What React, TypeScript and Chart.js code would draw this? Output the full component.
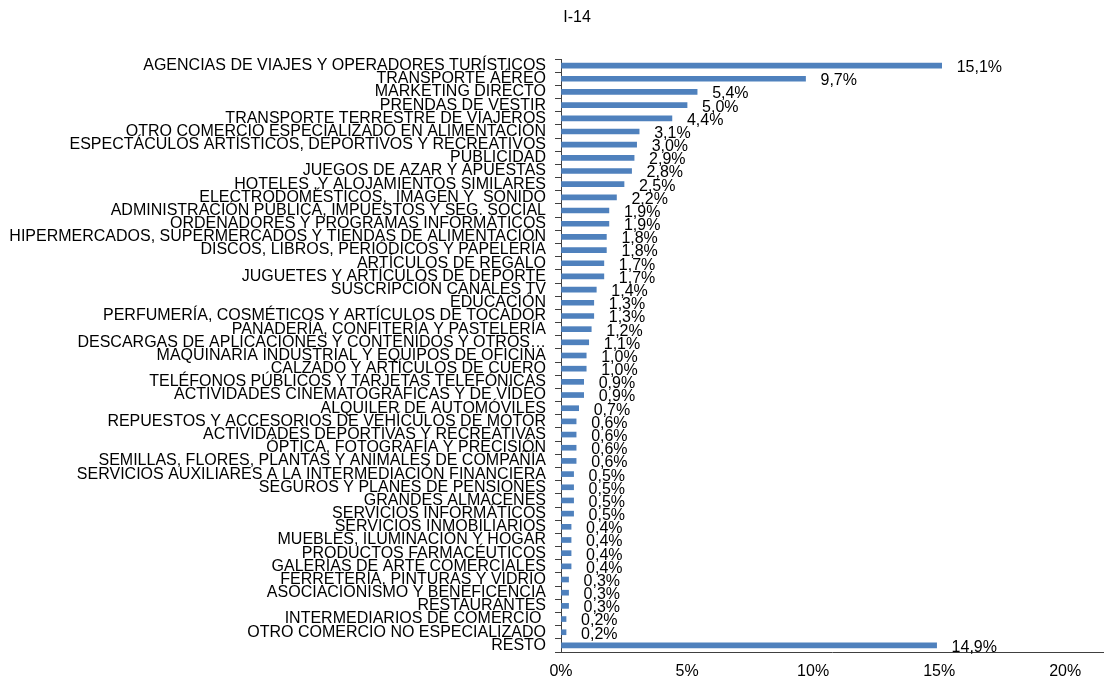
import React, { useEffect, useRef } from "react";
import { Chart, registerables } from "chart.js";

Chart.register(...registerables);

const chartTitle = "I-14";

const categories: string[] = [
  "AGENCIAS DE VIAJES Y OPERADORES TURÍSTICOS",
  "TRANSPORTE AÉREO",
  "MARKETING DIRECTO",
  "PRENDAS DE VESTIR",
  "TRANSPORTE TERRESTRE DE VIAJEROS",
  "OTRO COMERCIO ESPECIALIZADO EN ALIMENTACIÓN",
  "ESPECTÁCULOS ARTÍSTICOS, DEPORTIVOS Y RECREATIVOS",
  "PUBLICIDAD",
  "JUEGOS DE AZAR Y APUESTAS",
  "HOTELES ,Y ALOJAMIENTOS SIMILARES",
  "ELECTRODOMÉSTICOS,  IMAGEN Y  SONIDO",
  "ADMINISTRACIÓN PÚBLICA, IMPUESTOS Y SEG. SOCIAL",
  "ORDENADORES Y PROGRAMAS INFORMÁTICOS",
  "HIPERMERCADOS, SUPERMERCADOS Y TIENDAS DE ALIMENTACIÓN",
  "DISCOS, LIBROS, PERIÓDICOS Y PAPELERÍA",
  "ARTÍCULOS DE REGALO",
  "JUGUETES Y ARTÍCULOS DE DEPORTE",
  "SUSCRIPCIÓN CANALES TV",
  "EDUCACIÓN",
  "PERFUMERÍA, COSMÉTICOS Y ARTÍCULOS DE TOCADOR",
  "PANADERÍA, CONFITERÍA Y PASTELERÍA",
  "DESCARGAS DE APLICACIONES Y CONTENIDOS Y OTROS…",
  "MAQUINARIA INDUSTRIAL Y EQUIPOS DE OFICINA",
  "CALZADO Y ARTÍCULOS DE CUERO",
  "TELÉFONOS PÚBLICOS Y TARJETAS TELEFÓNICAS",
  "ACTIVIDADES CINEMATOGRÁFICAS Y DE VÍDEO",
  "ALQUILER DE AUTOMÓVILES",
  "REPUESTOS Y ACCESORIOS DE VEHÍCULOS DE MOTOR",
  "ACTIVIDADES DEPORTIVAS Y RECREATIVAS",
  "ÓPTICA, FOTOGRAFÍA Y PRECISIÓN",
  "SEMILLAS, FLORES, PLANTAS Y ANIMALES DE COMPAÑÍA",
  "SERVICIOS AUXILIARES A LA INTERMEDIACIÓN FINANCIERA",
  "SEGUROS Y PLANES DE PENSIONES",
  "GRANDES ALMACENES",
  "SERVICIOS INFORMÁTICOS",
  "SERVICIOS INMOBILIARIOS",
  "MUEBLES, ILUMINACIÓN Y HOGAR",
  "PRODUCTOS FARMACÉUTICOS",
  "GALERÍAS DE ARTE COMERCIALES",
  "FERRETERÍA, PINTURAS Y VIDRIO",
  "ASOCIACIONISMO Y BENEFICENCIA",
  "RESTAURANTES",
  "INTERMEDIARIOS DE COMERCIO ",
  "OTRO COMERCIO NO ESPECIALIZADO",
  "RESTO",
];

const values: number[] = [
  15.1, 9.7, 5.4, 5.0, 4.4, 3.1, 3.0, 2.9, 2.8, 2.5, 2.2,
  1.9, 1.9, 1.8, 1.8, 1.7, 1.7, 1.4, 1.3, 1.3, 1.2, 1.1,
  1.0, 1.0, 0.9, 0.9, 0.7, 0.6, 0.6, 0.6, 0.6, 0.5, 0.5,
  0.5, 0.5, 0.4, 0.4, 0.4, 0.4, 0.3, 0.3, 0.3, 0.2, 0.2,
  14.9,
];

const xTickValues: number[] = [0, 5, 10, 15, 20];

const FONT = '"Liberation Sans", Arial, sans-serif';

const fmt = (v: number) => v.toFixed(1).replace(".", ",") + "%";

const valueLabels = {
  id: "valueLabels",
  afterDatasetsDraw(chart: any) {
    const ctx = chart.ctx;
    const meta = chart.getDatasetMeta(0);
    ctx.save();
    ctx.font = `16px ${FONT}`;
    ctx.fillStyle = "#000";
    ctx.textAlign = "left";
    ctx.textBaseline = "middle";
    meta.data.forEach((el: any, i: number) => {
      ctx.fillText(fmt(values[i]), el.x + 15, el.y + 2);
    });
    ctx.restore();
  },
};

export default function App() {
  const ref = useRef<HTMLCanvasElement | null>(null);

  useEffect(() => {
    if (!ref.current) return;
    const chart = new Chart(ref.current, {
      type: "bar",
      data: {
        labels: categories,
        datasets: [
          {
            data: values,
            backgroundColor: "#4F81BD",
            borderWidth: 0,
            barThickness: 5,
          },
        ],
      },
      options: {
        indexAxis: "y",
        animation: false,
        responsive: false,
        layout: { padding: { left: 0, right: 6, top: 59, bottom: 2 } },
        plugins: {
          legend: { display: false },
          tooltip: { enabled: false },
          title: { display: false },
        },
        scales: {
          y: {
            afterFit(scale: any) {
              scale.width = 561;
              scale.paddingTop = 0;
              scale.paddingBottom = 0;
            },
            ticks: {
              autoSkip: false,
              color: "#000",
              padding: 9,
              font: { family: FONT, size: 16 },
            },
            grid: {
              display: true,
              drawOnChartArea: false,
              drawTicks: true,
              tickLength: 6,
              color: "#404040",
            },
            border: { display: true, color: "#404040", width: 1 },
          },
          x: {
            min: 0,
            max: 21.5,
            afterBuildTicks(scale: any) {
              scale.ticks = xTickValues.map((v) => ({ value: v }));
            },
            afterFit(scale: any) {
              scale.height = 27;
              scale.paddingLeft = 0;
              scale.paddingRight = 0;
            },
            ticks: {
              color: "#000",
              padding: 10,
              maxRotation: 0,
              font: { family: FONT, size: 16 },
              callback: (v: any) => `${v}%`,
            },
            grid: {
              display: true,
              drawOnChartArea: false,
              drawTicks: false,
            },
            border: { display: true, color: "#404040", width: 1 },
          },
        },
      },
      plugins: [valueLabels],
    });
    return () => chart.destroy();
  }, []);

  return (
    <div style={{ position: "fixed", left: 0, top: 0, width: 1109, height: 681, background: "#fff" }}>
      <div
        style={{
          position: "absolute",
          left: 527,
          top: 7,
          width: 100,
          textAlign: "center",
          fontFamily: FONT,
          fontSize: 16,
          lineHeight: "20px",
          color: "#000",
        }}
      >
        {chartTitle}
      </div>
      <canvas ref={ref} width={1109} height={681} style={{ display: "block" }} />
    </div>
  );
}
